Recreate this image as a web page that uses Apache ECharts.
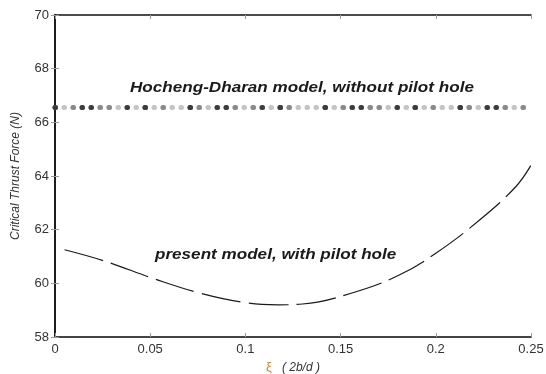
<!DOCTYPE html>
<html>
<head>
<meta charset="utf-8">
<script src="https://cdn.jsdelivr.net/npm/echarts@6/dist/echarts.min.js"></script>
<style>
  html, body { margin: 0; padding: 0; background: #fff; }
  #main { width: 546px; height: 374px; }
</style>
</head>
<body>
<div id="main"></div>
<script>
// ξ values along the present model curve
const xi = [0.005, 0.026, 0.0525, 0.076, 0.1, 0.117, 0.13, 0.156, 0.18, 0.2, 0.223, 0.242, 0.25];
// critical thrust force (N), present model with pilot hole
const presentForce = [61.25, 60.83, 60.16, 59.64, 59.28, 59.2, 59.23, 59.64, 60.28, 61.12, 62.36, 63.6, 64.4];
// Hocheng-Dharan model, constant level
const hdXi = [0, 0.25];
const hdForce = [66.55, 66.55];

const xTicks = [0, 0.05, 0.1, 0.15, 0.2, 0.25];
const yTicks = [58, 60, 62, 64, 66, 68, 70];

const font = '"Liberation Sans", Arial, sans-serif';

const chart = echarts.init(document.getElementById('main'));

const pairs = (xs, ys) => xs.map((x, i) => [x, ys[i]]);

// dotted line drawn a few times with different dash rhythms so the dots vary in shade
const dotLine = (color, dash) => ({
  type: 'line',
  data: pairs(hdXi, hdForce),
  symbol: 'none',
  silent: true,
  lineStyle: { color: color, width: 5, type: dash, cap: 'round' }
});

const insideTicks = { show: true, inside: true, length: 4, lineStyle: { color: '#999', width: 1 } };

chart.setOption({
  animation: false,
  backgroundColor: '#fff',
  grid: { left: 55, right: 15, top: 15, bottom: 37, containLabel: false, outerBoundsMode: 'none' },
  xAxis: [
    {
      type: 'value', min: 0, max: 0.25, interval: 0.05,
      axisLine: { lineStyle: { color: '#444', width: 2 } },
      axisTick: insideTicks,
      splitLine: { show: false },
      axisLabel: {
        color: '#333', fontSize: 13, fontFamily: font, margin: 6,
        formatter: v => (xTicks.indexOf(+v.toFixed(2)) >= 0 ? String(+v.toFixed(2)) : '')
      },
      name: '{xi|ξ}   ( 2b/d )',
      nameLocation: 'middle', nameGap: 21,
      nameTextStyle: {
        color: '#333', fontSize: 12, fontStyle: 'italic', fontFamily: font,
        rich: { xi: { color: '#c8862a', fontSize: 13, fontStyle: 'normal', fontFamily: font } }
      }
    },
    {
      type: 'value', min: 0, max: 0.25, interval: 0.05, position: 'top',
      axisLine: { show: true, lineStyle: { color: '#111', width: 1.5 } },
      axisTick: insideTicks, axisLabel: { show: false }, splitLine: { show: false }
    }
  ],
  yAxis: [
    {
      type: 'value', min: 58, max: 70, interval: 2,
      axisLine: { show: true, lineStyle: { color: '#444', width: 2 } },
      axisTick: insideTicks,
      splitLine: { show: false },
      axisLabel: {
        color: '#333', fontSize: 13, fontFamily: font, margin: 6,
        formatter: v => (yTicks.indexOf(v) >= 0 ? String(v) : '')
      },
      name: 'Critical Thrust Force (N)',
      nameLocation: 'middle', nameGap: 33,
      nameTextStyle: { color: '#333', fontSize: 12, fontStyle: 'italic', fontFamily: font }
    },
    {
      type: 'value', min: 58, max: 70, interval: 2, position: 'right',
      axisLine: { show: true, lineStyle: { color: '#111', width: 1.5 } },
      axisTick: insideTicks, axisLabel: { show: false }, splitLine: { show: false }
    }
  ],
  series: [
    dotLine('#c4c4c4', [0.5, 8.5]),
    dotLine('#8a8a8a', [0.5, 17.5, 0.5, 26.5, 0.5, 8.5, 0.5, 35.5]),
    dotLine('#3c3c3c', [0.5, 26.5, 0.5, 8.5, 0.5, 35.5, 0.5, 17.5, 0.5, 44.5]),
    {
      type: 'line',
      data: pairs(xi, presentForce),
      smooth: 0.4,
      symbol: 'none',
      lineStyle: { color: '#1a1a1a', width: 1.2, type: [40, 8] }
    }
  ],
  graphic: [
    {
      type: 'text', x: 130, y: 88, scaleX: 1.14,
      style: {
        text: 'Hocheng-Dharan model, without pilot hole',
        font: 'italic bold 15px ' + font, fill: '#1a1a1a', verticalAlign: 'middle'
      }
    },
    {
      type: 'text', x: 155, y: 255, scaleX: 1.14,
      style: {
        text: 'present model, with pilot hole',
        font: 'italic bold 15px ' + font, fill: '#1a1a1a', verticalAlign: 'middle'
      }
    }
  ]
});
</script>
</body>
</html>
